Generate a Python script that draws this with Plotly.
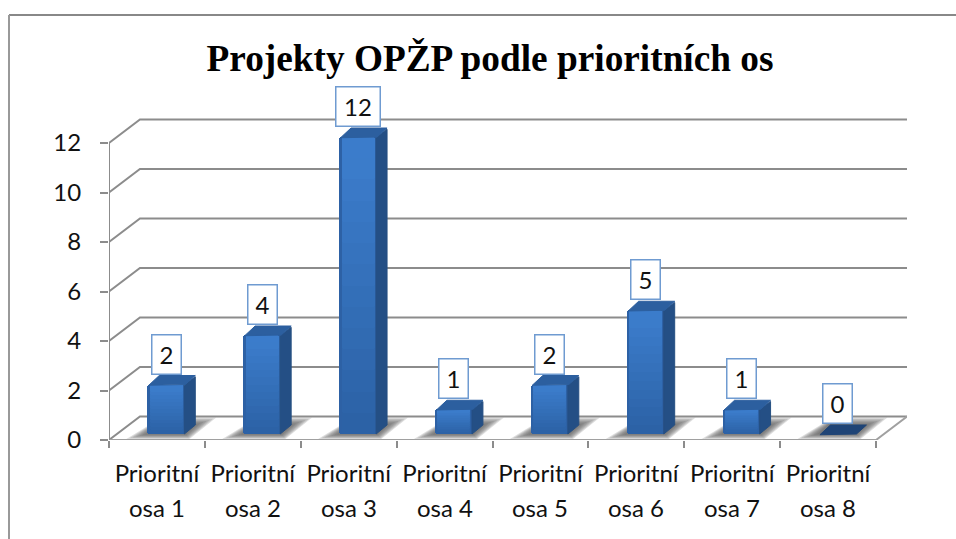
import plotly.graph_objects as go

categories = ["Prioritní osa 1", "Prioritní osa 2", "Prioritní osa 3", "Prioritní osa 4",
              "Prioritní osa 5", "Prioritní osa 6", "Prioritní osa 7", "Prioritní osa 8"]
values = [2, 4, 12, 1, 2, 5, 1, 0]
y_ticks = [0, 2, 4, 6, 8, 10, 12]
title = "Projekty OPŽP podle prioritních os"

PX_X = 96.0
PX_Y = 24.75
W, H = 956, 539
L, R, T, B = 109, 49, 118, 99
WALL_DX = 31 / PX_X
WALL_DY = 23.5 / PX_Y
BAR_W = 38 / PX_X
BAR_OFF = 0.4
BASE = 6 / PX_Y
DX = 10 / PX_X
DY = 9 / PX_Y
GREY = "#8c8c8c"
FONT = "Lato"
FS = 24
FS_NUM = 24

n = len(categories)
centers = [i + 0.5 for i in range(n)]
bar_x = [i + BAR_OFF for i in range(n)]


def poly(pts):
    return "M" + " L".join(f"{x:.4f},{y:.4f}" for x, y in pts) + " Z"


shapes = []
frame_y = (H - B - 15) / (H - T - B)
frame_x = (9 - L) / (W - L - R)
shapes.append(dict(type="line", xref="paper", yref="paper",
                   x0=frame_x, x1=(W - L) / (W - L - R), y0=frame_y, y1=frame_y,
                   line=dict(color="#888888", width=2), layer="below"))
shapes.append(dict(type="line", xref="paper", yref="paper",
                   x0=frame_x, x1=frame_x, y0=frame_y, y1=-B / (H - T - B),
                   line=dict(color="#999999", width=2), layer="below"))

# shadows on the floor
for v, x in zip(values, bar_x):
    for e in (1.0, 0.85, 0.7, 0.55, 0.4, 0.25, 0.1):
        ex = e * 21 / PX_X
        shapes.append(dict(
            type="path", xref="x", yref="y", layer="below",
            path=poly([(x - ex, BASE - 0.2 * e), (x + BAR_W + ex * 0.2, BASE - 0.2 * e),
                       (x + BAR_W + DX + ex, BASE + DY + 0.3 * e), (x + DX + ex * 0.2, BASE + DY + 0.3 * e)]),
            fillcolor="rgba(90,90,90,0.2)", line=dict(width=0)))

# back wall grid lines and side wall lines
for k in y_ticks:
    shapes.append(dict(type="path", xref="x", yref="y", layer="below",
                       path=f"M0,{k} L{WALL_DX:.4f},{k + WALL_DY:.4f} L{n + WALL_DX:.4f},{k + WALL_DY:.4f}",
                       line=dict(color=GREY, width=2)))
shapes.append(dict(type="path", xref="x", yref="y", layer="below",
                   path=f"M0,0 L{n},0 L{n + WALL_DX:.4f},{WALL_DY:.4f}",
                   line=dict(color="#a0a0a0", width=2)))
shapes.append(dict(type="line", xref="x", yref="y", layer="below", x0=0, x1=0, y0=0, y1=max(y_ticks),
                   line=dict(color=GREY, width=2)))

fig = go.Figure()

fig.add_trace(go.Bar(x=bar_x, y=values, base=[BASE] * n, width=BAR_W, offset=0,
                     marker=dict(color="#2d61a5", line=dict(width=0)), hoverinfo="skip", showlegend=False))
low, high = (0x2c, 0x62, 0xa6), (0x3b, 0x7c, 0xcb)
steps = 14
inset = 2.5 / PX_X
for s in range(steps):
    frac = s / steps
    t = min(1.0, frac * 1.15)
    col = "rgb({},{},{})".format(*[round(a + (b - a) * t) for a, b in zip(low, high)])
    fig.add_trace(go.Bar(x=[x + inset for x in bar_x], y=[v * (1 - frac) for v in values],
                         base=[BASE + v * frac for v in values], width=BAR_W - 2 * inset, offset=0,
                         marker=dict(color=col, line=dict(width=0)), hoverinfo="skip", showlegend=False))

# side faces
sx, sy = [], []
for v, x in zip(values, bar_x):
    if v == 0:
        continue
    r = x + BAR_W
    sx += [r - 0.01, r + DX, r + DX, r - 0.01, r - 0.01, None]
    sy += [BASE, BASE + DY, BASE + v + DY - 0.05, BASE + v, BASE, None]
fig.add_trace(go.Scatter(x=sx, y=sy, mode="lines", fill="toself", fillcolor="#244f85",
                         line=dict(color="#264f82", width=1), hoverinfo="skip", showlegend=False))

# top faces
tx, ty, zx, zy = [], [], [], []
for v, x in zip(values, bar_x):
    pts_x = [x + 0.015, x + BAR_W, x + BAR_W + DX, x + DX + 0.02, x + 0.015, None]
    pts_y = [BASE + v - 0.03, BASE + v, BASE + v + DY, BASE + v + DY, BASE + v - 0.03, None]
    if v == 0:
        zx += pts_x
        zy += pts_y
    else:
        tx += pts_x
        ty += pts_y
fig.add_trace(go.Scatter(x=tx, y=ty, mode="lines", fill="toself", fillcolor="#2c5f9f",
                         line=dict(color="#2c5f9f", width=1), hoverinfo="skip", showlegend=False))
fig.add_trace(go.Scatter(x=zx, y=zy, mode="lines", fill="toself", fillcolor="#1f4476",
                         line=dict(color="#1f4476", width=1), hoverinfo="skip", showlegend=False))

annotations = []
for v, x in zip(values, bar_x):
    annotations.append(dict(x=x + BAR_W / 2, y=BASE + v, xref="x", yref="y",
                            text=str(v), showarrow=False, yanchor="bottom", xanchor="center",
                            yshift=10, width=43 if v >= 10 else 28, height=38,
                            bgcolor="white", bordercolor="#6f9bd1", borderwidth=1.5, borderpad=0,
                            font=dict(family=FONT, size=FS_NUM, color="#111111")))
for c, x in zip(categories, centers):
    annotations.append(dict(x=x, y=0, xref="x", yref="paper", text=c.split(" ", 1)[1],
                            showarrow=False, yanchor="middle", xanchor="center", yshift=-67,
                            font=dict(family=FONT, size=FS, color="#111111")))

fig.update_layout(
    width=W, height=H, autosize=False,
    margin=dict(l=L, r=R, t=T, b=B, pad=0),
    paper_bgcolor="white", plot_bgcolor="rgba(0,0,0,0)",
    barmode="overlay", barcornerradius=3, bargap=0,
    title=dict(text=f"<b>{title}</b>", x=490 / W, xanchor="center", y=1 - 58 / H, yanchor="middle",
               font=dict(family="Liberation Serif", size=37.3, color="#000000")),
    xaxis=dict(range=[0, n + WALL_DX], tickmode="array", tickvals=centers,
               ticktext=[c.split(" ", 1)[0] for c in categories],
               showgrid=False, zeroline=False, showline=False, ticks="outside", ticklen=0, tickwidth=0,
               ticklabelstandoff=12, tickangle=0,
               tickfont=dict(family=FONT, size=FS, color="#111111"),
               minor=dict(tickmode="array", tickvals=list(range(n + 1)), ticks="outside", ticklen=7,
                          tickwidth=2, tickcolor=GREY, showgrid=False)),
    yaxis=dict(range=[0, (H - T - B) / PX_Y], tickmode="array", tickvals=y_ticks,
               showgrid=False, zeroline=False, showline=False, ticks="outside", ticklen=8, tickwidth=2,
               tickcolor=GREY, ticklabelstandoff=14,
               tickfont=dict(family=FONT, size=FS_NUM, color="#111111")),
    shapes=shapes, annotations=annotations,
)

fig.write_html("out.html", config=dict(displayModeBar=False),
               post_script="document.body.style.margin='0';document.documentElement.style.overflow='hidden';")
